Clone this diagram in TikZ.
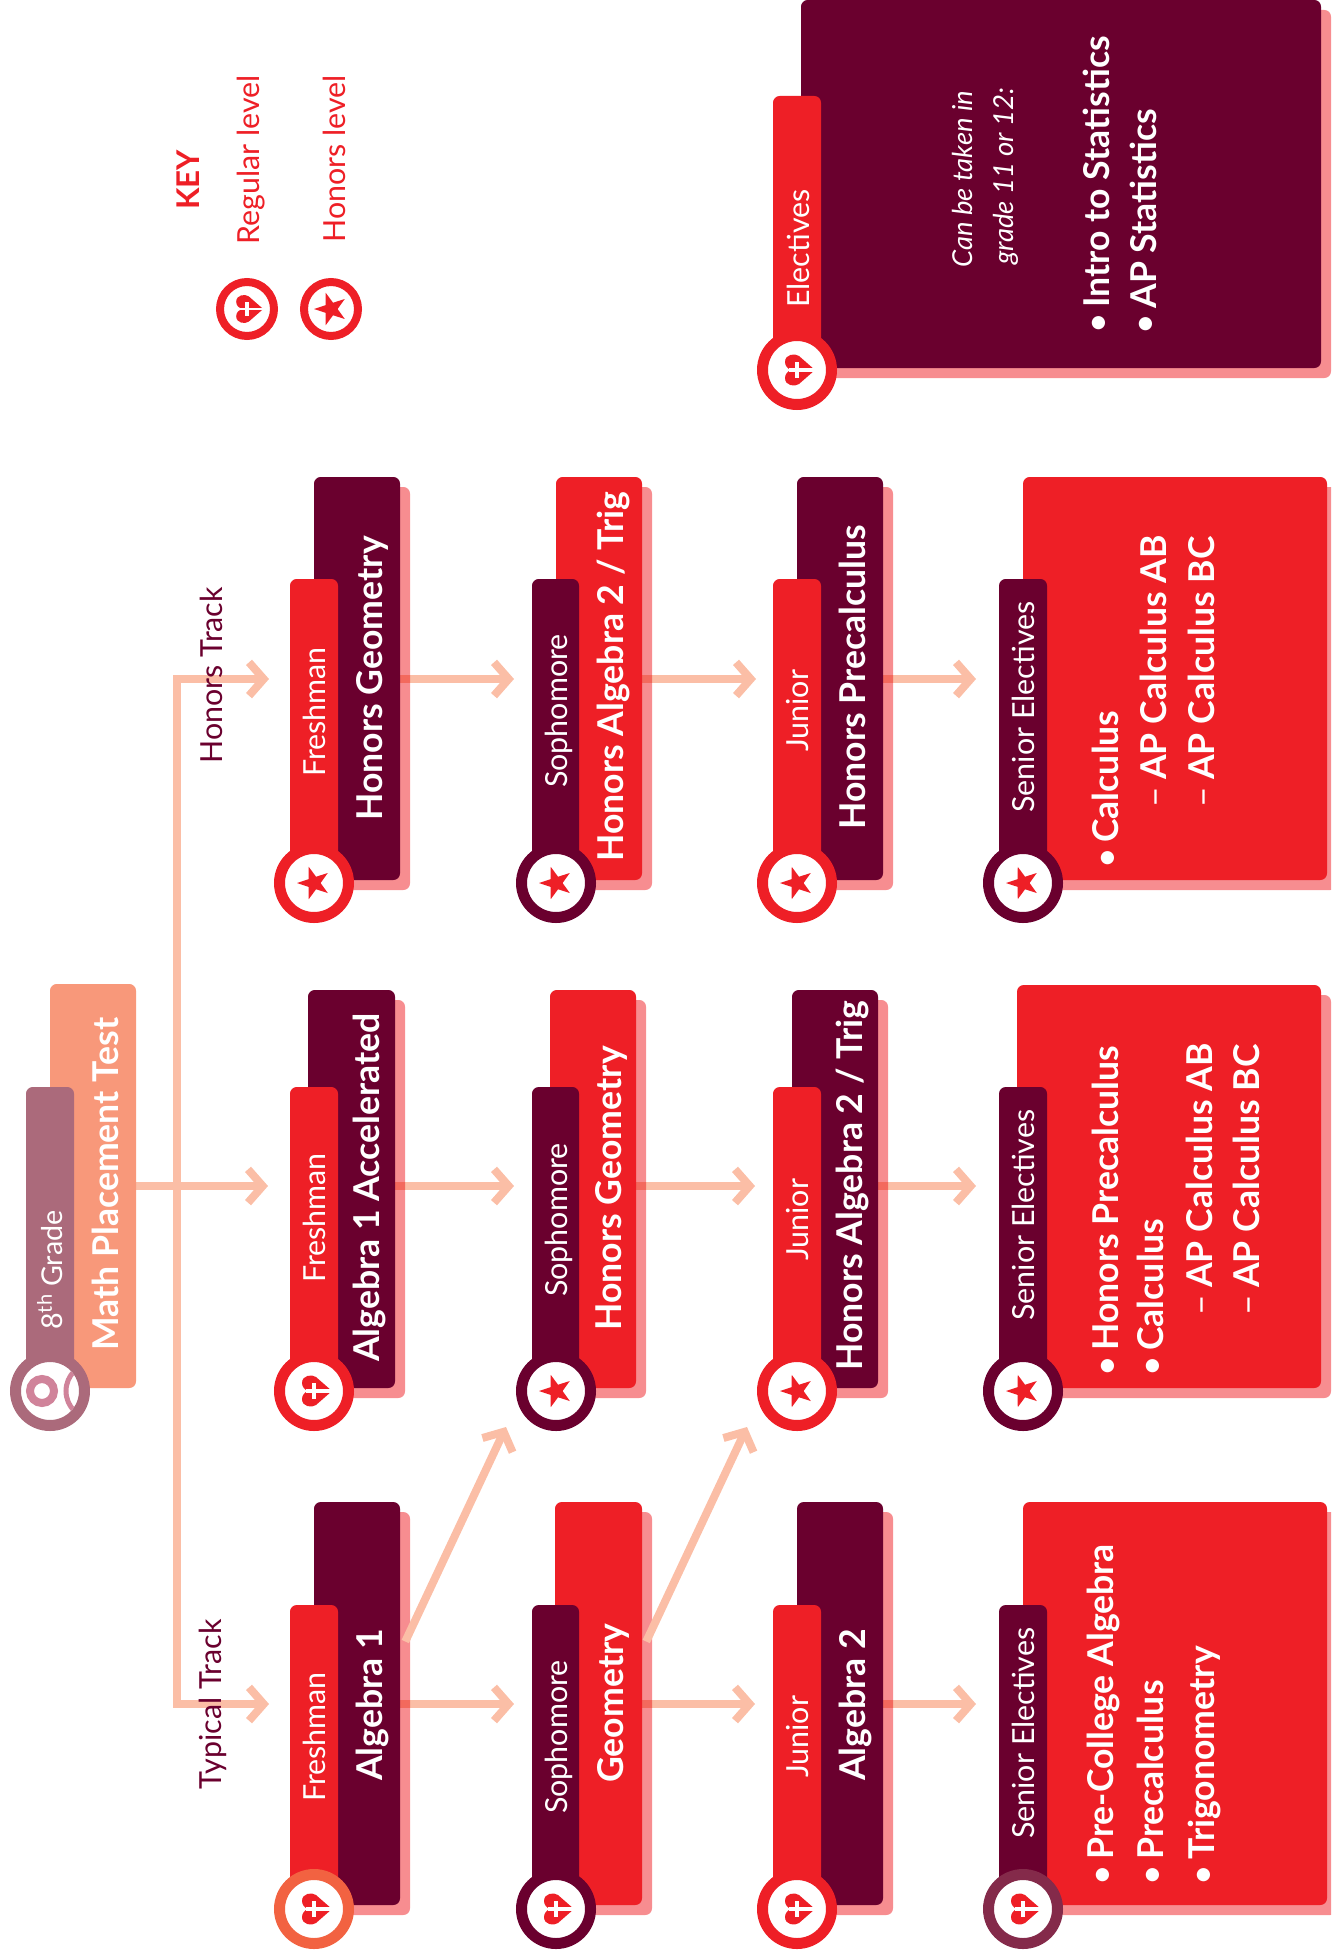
\documentclass[tikz,border=0pt]{standalone}
\usepackage{fontspec}
\setmainfont{Lato}[BoldFont={Lato Bold}]
\usetikzlibrary{arrows.meta,fit,calc,shapes.geometric}
\definecolor{maroon}{HTML}{6A002E}
\definecolor{redc}{HTML}{EE1F26}
\definecolor{shade}{HTML}{F78D90}
\definecolor{connc}{HTML}{FBBEA6}
\definecolor{peach}{HTML}{F8987A}
\definecolor{mauve}{HTML}{AB6A7B}
\definecolor{orangering}{HTML}{F26241}
\definecolor{plum}{HTML}{842A4A}
\definecolor{pinkring}{HTML}{D0839A}
\pgfdeclarelayer{conn}
\pgfsetlayers{conn,main}
\newcommand{\bul}{\llap{\mdseries•\kern 3.5pt}}
\newcommand{\dsh}{\llap{\mdseries–\kern 5.5pt}}
\tikzset{
  x=0.75pt,y=-0.75pt,
  card/.style={rectangle,inner sep=0pt,rounded corners=5pt,fill=#1},
  shadowbox/.style={fill=shade,rounded corners=5pt,blend mode=multiply},
  tabtext/.style={rotate=90,anchor=base west,inner sep=0pt,text=white,font=\fontsize{22.8}{24}\selectfont},
  titletext/.style={rotate=90,anchor=base west,inner sep=0pt,text=white,font=\fontsize{26.7}{30}\selectfont\bfseries},
  itemtext/.style={titletext},
  noteitalic/.style={rotate=90,anchor=base west,inner sep=0pt,text=white,font=\fontsize{20.6}{24}\selectfont\itshape},
  keytext/.style={rotate=90,anchor=base west,inner sep=0pt,text=#1,font=\fontsize{22.8}{24}\selectfont},
  conn/.style={draw=connc,line width=6pt,-{Straight Barb[length=11pt,width=25pt]}},
  heartmark/.pic={
    \fill[redc] (18,0) -- (2,-14) .. controls (-2,-17) and (-12,-16) .. (-12,-8)
      .. controls (-12,-4) and (-9,-1) .. (-6,0)
      .. controls (-9,1) and (-12,4) .. (-12,8)
      .. controls (-12,16) and (-2,17) .. (2,14) -- cycle;
    \fill[white] (-8,-1.6) rectangle (19,1.6);
    \fill[white] (-2.3,-8) rectangle (2.3,8);
  },
  starmark/.pic={
    \fill[redc] (180:17) -- (216:6.6) -- (252:17) -- (288:6.6) -- (324:17) -- (0:6.6)
      -- (36:17) -- (72:6.6) -- (108:17) -- (144:6.6) -- cycle;
  },
}
% #1 name, #2..#5 x1 y1 x2 y2, #6 colour : card with drop shadow
\newcommand{\shadowcard}[6]{%
  \fill[shadowbox] (#2+10,#3+10) rectangle (#4+10,#5+10);
  \node[card=#6,fit={(#2,#3) (#4,#5)}] (#1) {};
}
\newcommand{\tabcard}[6]{\node[card=#6,fit={(#2,#3) (#4,#5)}] (#1) {};}
% #1 name, #2 x, #3 y, #4 ring colour, #5 radius, #6 ring width, #7 pic, #8 scale
\newcommand{\badge}[8]{%
  \node[circle,draw=#4,fill=white,line width=#6*0.75pt,minimum size=(2*#5-#6)*0.75pt,inner sep=0pt] (#1) at (#2,#3) {};
  \pic[scale=#8] at (#2,#3) {#7};
}
\begin{document}
\begin{tikzpicture}
\useasboundingbox (0,0) rectangle (1331,1959);
\clip (0,0) rectangle (1331,1959);

% key
\node[keytext=redc,font=\fontsize{23.5}{24}\selectfont\bfseries] (keyhead) at (199,210) {KEY};
\node[keytext=redc] (keyreg) at (259,245) {Regular level};
\node[keytext=redc] (keyhon) at (345,243) {Honors level};
\badge{keyb1}{247}{309}{redc}{31}{8}{heartmark}{0.9}
\badge{keyb2}{331}{309}{redc}{31}{8}{starmark}{1}

% start
\tabcard{mathbox}{50}{984}{136}{1388}{peach}
\tabcard{gradetab}{26}{1087}{74}{1391}{mauve}
\node[tabtext,font=\fontsize{21.5}{24}\selectfont] (gradetx) at (62,1330) {8\textsuperscript{th} Grade};
\node[titletext] (mathtx) at (118,1351) {Math Placement Test};
\node[circle,draw=mauve,fill=white,line width=8.25pt,minimum size=51.75pt,inner sep=0pt] (startb) at (50,1391) {};
\begin{scope}
  \clip (50,1391) circle[radius=29];
  \draw[pinkring,line width=3.75pt] (94,1391) circle[radius=28];
\end{scope}
\draw[pinkring,line width=6pt] (42,1391) circle[radius=12];

% honors row
\shadowcard{h1}{314}{477}{400}{880}{maroon}
\tabcard{h1t}{290}{579}{338}{882}{redc}
\node[tabtext] (h1tx) at (325,777) {Freshman};
\node[titletext] (h1ti) at (382,821) {Honors Geometry};
\badge{h1b}{314}{883}{redc}{40}{11}{starmark}{1}

\shadowcard{h2}{556}{477}{642}{880}{redc}
\tabcard{h2t}{532}{579}{579}{882}{maroon}
\node[tabtext] (h2tx) at (567,788) {Sophomore};
\node[titletext] (h2ti) at (623,862) {Honors Algebra 2 / Trig};
\badge{h2b}{556}{883}{maroon}{40}{11}{starmark}{1}

\shadowcard{h3}{797}{477}{883}{880}{maroon}
\tabcard{h3t}{773}{579}{821}{882}{redc}
\node[tabtext] (h3tx) at (808,752) {Junior};
\node[titletext] (h3ti) at (865,830) {Honors Precalculus};
\badge{h3b}{797}{883}{redc}{40}{11}{starmark}{1}

\shadowcard{h4}{1023}{477}{1327}{880}{redc}
\tabcard{h4t}{999}{579}{1047}{882}{maroon}
\node[tabtext] (h4tx) at (1034,813) {Senior Electives};
\node[itemtext] (h4a) at (1118,843) {\bul Calculus};
\node[itemtext] (h4b) at (1166,780) {\dsh AP Calculus AB};
\node[itemtext] (h4c) at (1214,780) {\dsh AP Calculus BC};
\badge{h4b}{1023}{883}{maroon}{40}{11}{starmark}{1}

% accelerated row
\shadowcard{a1}{308}{990}{395}{1388}{maroon}
\tabcard{a1t}{290}{1087}{338}{1391}{redc}
\node[tabtext] (a1tx) at (325,1283) {Freshman};
\node[titletext] (a1ti) at (379,1362) {Algebra 1 Accelerated};
\badge{a1b}{314}{1391}{redc}{40}{11}{heartmark}{1}

\shadowcard{a2}{550}{990}{636}{1388}{redc}
\tabcard{a2t}{532}{1087}{579}{1391}{maroon}
\node[tabtext] (a2tx) at (567,1297) {Sophomore};
\node[titletext] (a2ti) at (621,1331) {Honors Geometry};
\badge{a2b}{556}{1391}{maroon}{40}{11}{starmark}{1}

\shadowcard{a3}{792}{990}{878}{1388}{maroon}
\tabcard{a3t}{773}{1087}{821}{1391}{redc}
\node[tabtext] (a3tx) at (808,1261) {Junior};
\node[titletext] (a3ti) at (862,1371) {Honors Algebra 2 / Trig};
\badge{a3b}{797}{1391}{redc}{40}{11}{starmark}{1}

\shadowcard{a4}{1017}{985}{1321}{1388}{redc}
\tabcard{a4t}{999}{1087}{1047}{1391}{maroon}
\node[tabtext] (a4tx) at (1034,1321) {Senior Electives};
\node[itemtext] (a4a) at (1118,1351) {\bul Honors Precalculus};
\node[itemtext] (a4b) at (1163,1351) {\bul Calculus};
\node[itemtext] (a4c) at (1212,1288) {\dsh AP Calculus AB};
\node[itemtext] (a4d) at (1259,1288) {\dsh AP Calculus BC};
\badge{a4b}{1023}{1391}{maroon}{40}{11}{starmark}{1}

% typical row
\shadowcard{t1}{314}{1502}{400}{1905}{maroon}
\tabcard{t1t}{290}{1605}{338}{1909}{redc}
\node[tabtext] (t1tx) at (325,1802) {Freshman};
\node[titletext] (t1ti) at (382,1781) {Algebra 1};
\badge{t1b}{314}{1909}{orangering}{40}{11}{heartmark}{1}

\shadowcard{t2}{555}{1502}{642}{1905}{redc}
\tabcard{t2t}{532}{1605}{579}{1909}{maroon}
\node[tabtext] (t2tx) at (567,1814) {Sophomore};
\node[titletext] (t2ti) at (623,1783) {Geometry};
\badge{t2b}{556}{1909}{maroon}{40}{11}{heartmark}{1}

\shadowcard{t3}{797}{1502}{883}{1905}{maroon}
\tabcard{t3t}{773}{1605}{821}{1909}{redc}
\node[tabtext] (t3tx) at (808,1778) {Junior};
\node[titletext] (t3ti) at (865,1781) {Algebra 2};
\badge{t3b}{797}{1909}{redc}{40}{11}{heartmark}{1}

\shadowcard{t4}{1023}{1502}{1327}{1905}{redc}
\tabcard{t4t}{999}{1605}{1047}{1909}{maroon}
\node[tabtext] (t4tx) at (1034,1839) {Senior Electives};
\node[itemtext] (t4a) at (1113,1860) {\bul Pre-College Algebra};
\node[itemtext] (t4b) at (1163,1860) {\bul Precalculus};
\node[itemtext] (t4c) at (1214,1860) {\bul Trigonometry};
\badge{t4b}{1023}{1909}{plum}{40}{11}{heartmark}{1}

% electives
\shadowcard{e1}{801}{0}{1321}{368}{maroon}
\tabcard{e1t}{773}{96}{821}{370}{redc}
\node[tabtext] (e1tx) at (809,308) {Electives};
\node[noteitalic] (e1n1) at (972,268) {Can be taken in};
\node[noteitalic] (e1n2) at (1013,265) {grade 11 or 12:};
\node[itemtext] (e1a) at (1109,308) {\bul Intro to Statistics};
\node[itemtext] (e1b) at (1156,309) {\bul AP Statistics};
\badge{e1c}{797}{370}{redc}{40}{11}{heartmark}{1}

% track labels
\node[keytext=maroon] (typ) at (221,1790) {Typical Track};
\node[keytext=maroon] (hon) at (222,764) {Honors Track};

% connectors
\coordinate (tipH) at (269,679);
\coordinate (tipM) at (268,1186);
\coordinate (tipT) at (269,1704);
\coordinate (h1tip) at (514,679);
\coordinate (h2tip) at (756,679);
\coordinate (h3tip) at (976,679);
\coordinate (a1tip) at (514,1186);
\coordinate (a2tip) at (755,1186);
\coordinate (a3tip) at (976,1186);
\coordinate (t1tip) at (514,1704);
\coordinate (t2tip) at (755,1704);
\coordinate (t3tip) at (976,1704);
\coordinate (d1tip) at (506,1427);
\coordinate (d2tip) at (747,1427);
\coordinate (d1s) at ($(t1.east)+(5,-62)$);
\coordinate (d2s) at ($(t2.east)+(4,-62)$);
\draw[conn] (d1s) -- (d1tip);
\draw[conn] (d2s) -- (d2tip);
\begin{pgfonlayer}{conn}
  \draw[draw=connc,line width=6pt,{Straight Barb[length=11pt,width=25pt]}-{Straight Barb[length=11pt,width=25pt]}] (tipH) -- (177,679) -- (177,1704) -- (tipT);
  \draw[conn] (mathbox.east |- tipM) -- (tipM);
  \foreach \a/\t in {h1/h1tip,h2/h2tip,h3/h3tip,a1/a1tip,a2/a2tip,a3/a3tip,t1/t1tip,t2/t2tip,t3/t3tip}
    \draw[conn] (\a.east |- \t) -- (\t);
\end{pgfonlayer}
\end{tikzpicture}
\end{document}
